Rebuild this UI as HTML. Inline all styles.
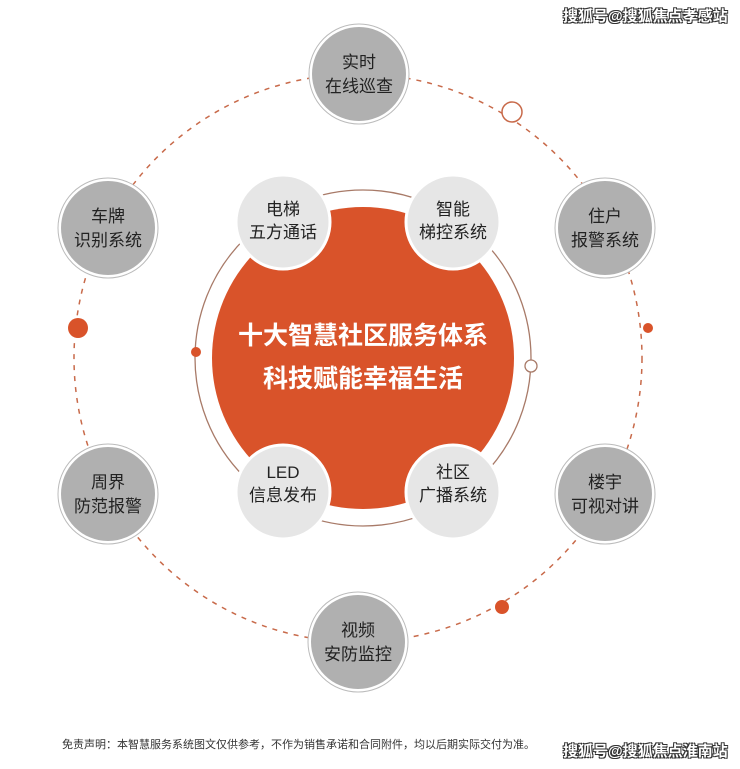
<!DOCTYPE html>
<html><head><meta charset="utf-8"><style>
html,body{margin:0;padding:0;background:#fff;}
body{width:740px;height:769px;position:relative;overflow:hidden;font-family:"Liberation Sans","Noto Sans CJK SC",sans-serif;}
svg{position:absolute;left:0;top:0;}
.wm{position:absolute;font-size:15px;font-weight:bold;color:#fff;text-shadow:0 0 1px #333,1px 1px 0 #333,-1px -1px 0 #333,1px -1px 0 #333,-1px 1px 0 #333;}
</style></head><body>
<svg width="740" height="769" viewBox="0 0 740 769" font-family="Liberation Sans, Noto Sans CJK SC, sans-serif">
<circle cx="358" cy="358" r="284" fill="none" stroke="#c86a4a" stroke-width="1.5" stroke-dasharray="5 6"/>
<circle cx="363" cy="358" r="168" fill="none" stroke="#a87a68" stroke-width="1.3"/>
<circle cx="363" cy="358" r="151" fill="#d9532a"/>
<text x="363" y="344" fill="#fff" font-size="25" font-weight="bold" text-anchor="middle">十大智慧社区服务体系</text>
<text x="363" y="387" fill="#fff" font-size="25" font-weight="bold" text-anchor="middle">科技赋能幸福生活</text>
<circle cx="196" cy="352" r="5" fill="#d9532a"/>
<circle cx="531" cy="366" r="6" fill="#fff" stroke="#a87a68" stroke-width="1.3"/>
<circle cx="512" cy="112" r="10" fill="#fff" stroke="#c86a4a" stroke-width="1.5"/>
<circle cx="78" cy="328" r="10" fill="#d9532a"/>
<circle cx="648" cy="328" r="5" fill="#d9532a"/>
<circle cx="502" cy="607" r="7" fill="#d9532a"/>
<g font-size="17" fill="#222" text-anchor="middle">
<g><circle cx="283" cy="222" r="47" fill="#e6e6e6" stroke="#fff" stroke-width="3"/><text x="283" y="215">电梯</text><text x="283" y="238">五方通话</text></g>
<g><circle cx="453" cy="222" r="47" fill="#e6e6e6" stroke="#fff" stroke-width="3"/><text x="453" y="215">智能</text><text x="453" y="238">梯控系统</text></g>
<g><circle cx="283" cy="492" r="47" fill="#e6e6e6" stroke="#fff" stroke-width="3"/><text x="283" y="478">LED</text><text x="283" y="501">信息发布</text></g>
<g><circle cx="453" cy="492" r="47" fill="#e6e6e6" stroke="#fff" stroke-width="3"/><text x="453" y="478">社区</text><text x="453" y="501">广播系统</text></g>
<g><circle cx="359" cy="74" r="50" fill="#fff" stroke="#bbb" stroke-width="1"/><circle cx="359" cy="74" r="47" fill="#b0b0b0"/><text x="359" y="68">实时</text><text x="359" y="92">在线巡查</text></g>
<g><circle cx="108" cy="228" r="50" fill="#fff" stroke="#bbb" stroke-width="1"/><circle cx="108" cy="228" r="47" fill="#b0b0b0"/><text x="108" y="222">车牌</text><text x="108" y="246">识别系统</text></g>
<g><circle cx="605" cy="228" r="50" fill="#fff" stroke="#bbb" stroke-width="1"/><circle cx="605" cy="228" r="47" fill="#b0b0b0"/><text x="605" y="222">住户</text><text x="605" y="246">报警系统</text></g>
<g><circle cx="108" cy="494" r="50" fill="#fff" stroke="#bbb" stroke-width="1"/><circle cx="108" cy="494" r="47" fill="#b0b0b0"/><text x="108" y="488">周界</text><text x="108" y="512">防范报警</text></g>
<g><circle cx="605" cy="494" r="50" fill="#fff" stroke="#bbb" stroke-width="1"/><circle cx="605" cy="494" r="47" fill="#b0b0b0"/><text x="605" y="488">楼宇</text><text x="605" y="512">可视对讲</text></g>
<g><circle cx="358" cy="642" r="50" fill="#fff" stroke="#bbb" stroke-width="1"/><circle cx="358" cy="642" r="47" fill="#b0b0b0"/><text x="358" y="636">视频</text><text x="358" y="660">安防监控</text></g>
</g>
<text x="62" y="748" font-size="11" fill="#333">免责声明：本智慧服务系统图文仅供参考，不作为销售承诺和合同附件，均以后期实际交付为准。</text>
</svg>
<div class="wm" style="left:563px;top:5px;">搜狐号@搜狐焦点孝感站</div>
<div class="wm" style="left:563px;top:740px;">搜狐号@搜狐焦点淮南站</div>
</body></html>
